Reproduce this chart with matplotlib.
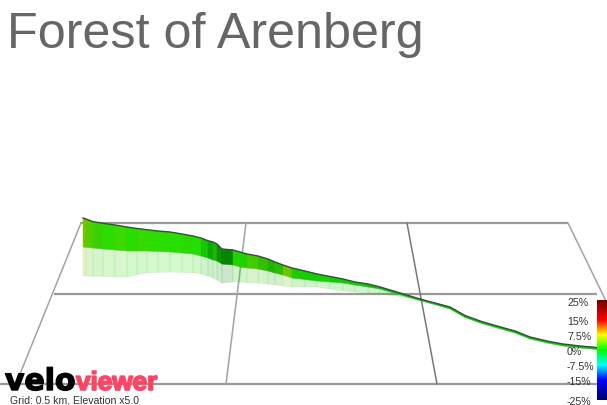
import numpy as np
import matplotlib
matplotlib.use('Agg')
import matplotlib.pyplot as plt
import matplotlib.patheffects as pe
from matplotlib.collections import PolyCollection
from matplotlib.colors import LinearSegmentedColormap, Normalize

TITLE = 'Forest of Arenberg'
GRID_TEXT = 'Grid: 0.5 km, Elevation x5.0'

# everything in screen pixels
dist = [83, 86, 93, 103, 115, 127, 137, 147, 158, 170, 182, 193, 201, 208, 213, 217, 222, 233, 240, 247,
        258, 268, 275, 283, 292, 305, 317, 330, 343, 355, 368, 380, 397, 420, 435, 450, 465, 480, 497,
        515, 530, 547, 563, 580, 597]
elev_top = [219, 220, 222.7, 224.3, 226, 228, 229.5, 230.7, 232, 233, 235, 237, 239, 241.7, 243, 245, 250, 251,
            253, 255, 257, 260, 263, 266, 269, 272, 275, 277.5, 280, 283, 285, 288, 293, 300, 304, 308, 316.5,
            322, 327, 332, 338, 342, 345, 347, 348.5]
band_bottom = [248, 248.3, 249, 250, 251, 252, 252, 252, 252.5, 253, 254, 255, 257, 259, 261, 262, 265, 266,
               268, 269, 270, 272, 274, 276, 279, 280.5, 282, 283, 284, 286, 288, 290, 295, 301.5, 305.5, 310,
               318.5, 324, 329, 334, 340, 344, 347, 349, 350.5]
shadow_bottom = [277, 277, 277.5, 277.5, 278, 278, 276, 274, 273.5, 273, 273.5, 274, 275, 277, 279, 281, 284,
                 283, 283, 284, 284, 285, 286, 287, 288, 288, 288, 290, 292, 293, 294, 295, 297, 302, 306,
                 310, 318.5, 324, 329, 334, 340, 344, 347, 349, 350.5]
gradient = [5, 3, 2, 1.5, 2, 1.3, 1.8, 1.5, 1.5, 1.3, 1.5, 1.2, 0.8, 0.3, 1.5, 0.3, 0.3, 1.2, 1, 2.5, 2, 1.2, 1.5, 4,
            1, 0.5, 0.8, 0.3, 0.5, 0.3, 0.5, 0.3, 0.3, 0.3, 0.3, 0.3, 0.3, 0.3, 0.3, 0.3, 0.3, 0.3, 0.3, 0.3]
shading = [.75, .8, .82, .87, .85, .87, .85, .87, .87, .87, .85, .87, .78, .67, .7, .58, .52, .82, .82, .8, .75,
           .7, .75, .78, .8, .82, .82, .82, .8, .8, .75, .75, .75, .75, .75, .75, .8, .8, .8, .8, .8, .8, .8, .8]

grid_h_y = [224, 295, 385]
grid_h_x0 = [80, 54, 0]
grid_h_x1 = [568, 597, 597]
grid_s_x0 = [81, 246, 568]
grid_s_y0 = [224, 224, 224]
grid_s_x1 = [20, 226, 606]
grid_s_y1 = [375, 385, 302]
dark_s_x = [407, 437]
dark_s_y = [224, 385]

bar_values = [25, 15, 7.5, 0, -7.5, -15, -25]
bar_labels = ['25%', '15%', '7.5%', '0%', '-7.5%', '-15%', '-25%']
label_y = [303, 322, 337, 352, 367, 382, 402]

cmap = LinearSegmentedColormap.from_list('slope', [
    (0.0, '#00006e'), (0.2, '#0000ff'), (0.35, '#00ffff'), (0.5, '#00ff00'),
    (0.65, '#ffff00'), (0.8, '#ff0000'), (1.0, '#6e0000')])
norm = Normalize(-25, 25)

fig = plt.figure(figsize=(6.07, 4.06), dpi=100)
ax = fig.add_axes([0, 0, 1, 1])
ax.set_xlim(0, 607)
ax.set_ylim(406, 0)
ax.axis('off')

# ground grid
for y, x0, x1 in zip(grid_h_y, grid_h_x0, grid_h_x1):
    ax.plot([x0, x1], [y, y], color='#999999', lw=1.6, solid_capstyle='butt', zorder=1)
for x0, y0, x1, y1 in zip(grid_s_x0, grid_s_y0, grid_s_x1, grid_s_y1):
    ax.plot([x0, x1], [y0, y1], color='#a3a3a3', lw=1.1, zorder=1)
ax.plot(dark_s_x, dark_s_y, color='#777777', lw=1.1, zorder=1)

# elevation strips and their pale reflection
colors = cmap(norm(gradient))
colors[:, :3] = colors[:, :3] * np.array(shading)[:, None]
strips = []
shadows = []
for i in range(len(dist) - 1):
    strips.append([(dist[i], elev_top[i]), (dist[i + 1], elev_top[i + 1]),
                   (dist[i + 1], band_bottom[i + 1]), (dist[i], band_bottom[i])])
    shadows.append([(dist[i], band_bottom[i]), (dist[i + 1], band_bottom[i + 1]),
                    (dist[i + 1], shadow_bottom[i + 1]), (dist[i], shadow_bottom[i])])
ax.add_collection(PolyCollection(shadows, facecolors=colors, edgecolors=colors, linewidths=0.3,
                                 alpha=0.2, zorder=2))
ax.add_collection(PolyCollection(strips, facecolors=colors, edgecolors=colors, linewidths=0.3, zorder=3))
ax.plot(dist, elev_top, color='#444450', lw=1.0, zorder=4)

# colour bar
ax.imshow(np.linspace(1, 0, 256)[:, None], cmap=cmap, extent=(597, 607, 401, 301), aspect='auto', zorder=5)
ax.set_xlim(0, 607)
ax.set_ylim(406, 0)
for label, y in zip(bar_labels, label_y):
    ax.text(567, y, label, fontsize=7.7, family='Liberation Sans', color='#333333', va='center', ha='left')

ax.text(7, 35, TITLE, fontsize=36.2, family='Liberation Sans', color='#666666', va='center', ha='left')

# logo
stroke = [pe.withStroke(linewidth=1.0, foreground='black')]
ax.text(5, 391, 'velo', fontsize=21.5, family='DejaVu Sans', weight='bold', color='black',
        va='baseline', ha='left', zorder=6, path_effects=stroke)
stroke = [pe.withStroke(linewidth=1.2, foreground='#ff4466')]
ax.text(76, 391, 'viewer', fontsize=18.8, family='Liberation Sans', weight='bold',
        color='#ff4466', va='baseline', ha='left', zorder=6, path_effects=stroke)
ax.text(10, 400.5, GRID_TEXT, fontsize=7.6, family='Liberation Sans', color='#333333', va='center', ha='left')

fig.savefig('out.png', dpi=100)
